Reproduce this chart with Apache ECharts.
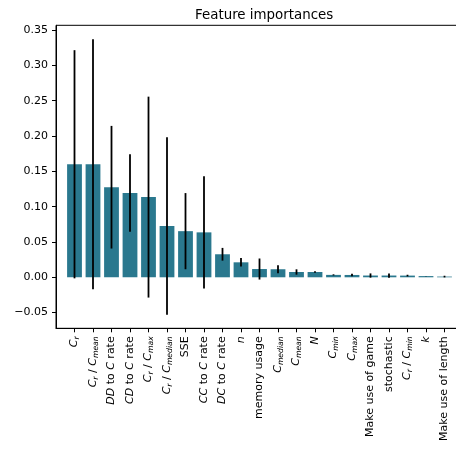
<!DOCTYPE html>
<html>
<head>
<meta charset="utf-8">
<script src="https://cdn.jsdelivr.net/npm/echarts@6/dist/echarts.min.js"></script>
<style>
html,body{margin:0;padding:0;background:#fff;}
#c{width:456px;height:449px;}
</style>
</head>
<body>
<div id="c"></div>
<script>
// Feature names (rich-text markup for mathtext-style labels)
const categories = [
  "{it|C}{sub|r}",
  "{it|C}{sub|r} / {it|C}{sub|mean}",
  "{it|DD} to {it|C} rate",
  "{it|CD} to {it|C} rate",
  "{it|C}{sub|r} / {it|C}{sub|max}",
  "{it|C}{sub|r} / {it|C}{sub|median}",
  "SSE",
  "{it|CC} to {it|C} rate",
  "{it|DC} to {it|C} rate",
  "{it|n}",
  "memory usage",
  "{it|C}{sub|median}",
  "{it|C}{sub|mean}",
  "{it|N}",
  "{it|C}{sub|min}",
  "{it|C}{sub|max}",
  "Make use of game",
  "stochastic",
  "{it|C}{sub|r} / {it|C}{sub|min}",
  "{it|k}",
  "Make use of length"
];
const importances = [0.160, 0.160, 0.1275, 0.1193, 0.1135, 0.0726, 0.0653, 0.0636, 0.0326, 0.0212, 0.0117, 0.0114, 0.0075, 0.0075, 0.0034, 0.0033, 0.0025, 0.0025, 0.0024, 0.0017, 0.0010];
const stds = [0.1615, 0.1768, 0.0868, 0.0548, 0.1422, 0.1255, 0.0539, 0.0794, 0.0090, 0.0060, 0.0149, 0.0057, 0.0038, 0.0010, 0.0008, 0.0017, 0.0030, 0.0030, 0.0012, 0.0003, 0.0012];
const yTicks = [-0.05, 0.00, 0.05, 0.10, 0.15, 0.20, 0.25, 0.30, 0.35];
const xTickPositions = categories.map((_, i) => i);

const barData = importances.map((v, i) => [i, v]);
const errData = importances.map((v, i) => [i, v - stds[i], v + stds[i]]);

const FONT = "'DejaVu Sans', sans-serif";
const chart = echarts.init(document.getElementById('c'), null, {renderer: 'canvas'});
chart.setOption({
  animation: false,
  backgroundColor: '#ffffff',
  title: {
    text: 'Feature importances',
    left: 190, top: 4,
    textStyle: {fontFamily: FONT, fontSize: 13.4, fontWeight: 'normal', color: '#000'}
  },
  grid: {left: 56, top: 25.3, width: 407, height: 303, show: true, borderColor: '#000', borderWidth: 1,
         backgroundColor: 'transparent', outerBoundsMode: 'none', containLabel: false},
  xAxis: {
    type: 'value', min: -1, max: 21,
    axisLine: {show: true, onZero: false, lineStyle: {color: '#000', width: 1}},
    axisTick: {show: true, length: 4, lineStyle: {color: '#000', width: 1}, customValues: xTickPositions},
    splitLine: {show: false},
    axisLabel: {
      customValues: xTickPositions,
      rotate: 90, margin: 8,
      fontFamily: FONT, fontSize: 11, color: '#000',
      formatter: v => categories[Math.round(v)] || '',
      rich: {
        it: {fontFamily: FONT, fontSize: 11, fontStyle: 'italic', color: '#000'},
        sub: {fontFamily: FONT, fontSize: 7.7, fontStyle: 'italic', color: '#000', verticalAlign: 'bottom', lineHeight: 14}
      }
    }
  },
  yAxis: {
    type: 'value', min: -0.0722, max: 0.3567,
    axisLine: {show: true, onZero: false, lineStyle: {color: '#000', width: 1}},
    axisTick: {show: true, length: 4, lineStyle: {color: '#000', width: 1}, customValues: yTicks},
    splitLine: {show: false},
    axisLabel: {
      customValues: yTicks, margin: 8,
      fontFamily: FONT, fontSize: 11, color: '#000',
      formatter: v => v.toFixed(2).replace('-', '\u2212')
    }
  },
  series: [
    {
      type: 'bar', data: barData, barWidth: 14.8,
      itemStyle: {color: '#2a788e'}
    },
    {
      type: 'custom', data: errData, z: 5,
      renderItem: function (params, api) {
        const x = api.value(0);
        const p1 = api.coord([x, api.value(1)]);
        const p2 = api.coord([x, api.value(2)]);
        return {type: 'line', shape: {x1: p1[0], y1: p1[1], x2: p2[0], y2: p2[1]},
                style: {stroke: '#000', lineWidth: 1.8}};
      }
    }
  ]
});
</script>
</body>
</html>
